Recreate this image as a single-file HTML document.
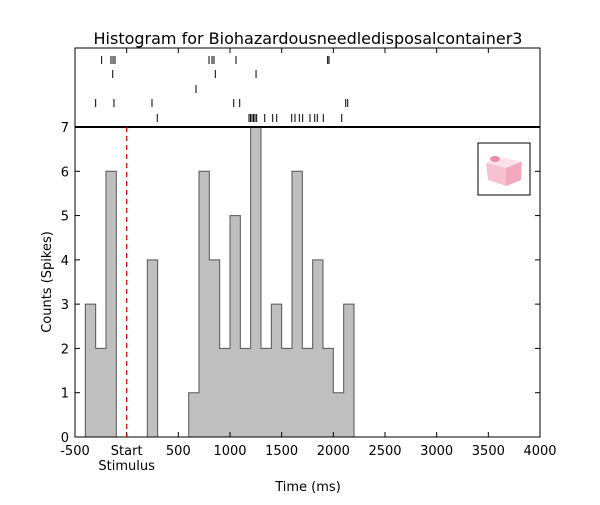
<!DOCTYPE html>
<html><head><meta charset="utf-8"><style>
body{margin:0;background:#fff;}
svg text{font-family:"DejaVu Sans","Liberation Sans",sans-serif;}
</style></head><body>
<svg id="c" width="600" height="500" viewBox="0 0 600 500">
<rect x="0" y="0" width="600" height="500" fill="#fff"/>
<text x="308" y="44" font-size="16" text-anchor="middle">Histogram for Biohazardousneedledisposalcontainer3</text>
<g id="bars"></g>
<g id="raster"></g>
<rect x="75" y="48" width="465" height="389" fill="none" stroke="#000" stroke-width="1"/>
<line x1="75" y1="127" x2="540" y2="127" stroke="#000" stroke-width="2"/>
<g id="ticks"></g>
<line id="stim" y1="127" y2="437" stroke="#c00" stroke-width="1.2" stroke-dasharray="5,4"/>
<g>
<rect x="478" y="143" width="52" height="52" fill="#fff" stroke="#000" stroke-width="1"/>
<path d="M486 163 L504 158 L522 162 L521 180 L506 186 L488 180 Z" fill="#f7c2d0"/>
<path d="M486 163 L504 158 L522 162 L506 168 Z" fill="#fbe0e8"/>
<ellipse cx="495" cy="159" rx="5" ry="3" fill="#ee8aa5"/>
<path d="M506 168 L506 186 L521 180 L521 162 Z" fill="#f3a9bd"/>
</g>
<text x="308" y="491" font-size="13" text-anchor="middle">Time (ms)</text>
<text transform="translate(51,282) rotate(-90)" font-size="13" text-anchor="middle">Counts (Spikes)</text>
</svg>
<script>
const binStarts=[-400,-300,-200,-100,0,100,200,300,400,500,600,700,800,900,1000,1100,1200,1300,1400,1500,1600,1700,1800,1900,2000,2100];
const counts=[3,2,6,0,0,0,4,0,0,0,1,6,4,2,5,2,7,2,3,2,6,2,4,2,1,3];
const binWidth=100;
const xTicks=[-500,0,500,1000,1500,2000,2500,3000,3500,4000];
const xTickLabels=["-500","Start","500","1000","1500","2000","2500","3000","3500","4000"];
const yTicks=[0,1,2,3,4,5,6,7];
const trial1=[-242,-152,-132,-113,797,826,845,1058,1945,1958];
const trial2=[-135,858,1252];
const trial3=[671];
const trial4=[-300,-123,245,1036,1094,2120,2139];
const trial5=[296,1184,1198,1213,1228,1242,1258,1336,1413,1452,1597,1629,1671,1703,1774,1820,1845,1903,2081];
const trials=[trial1,trial2,trial3,trial4,trial5];

const NS="http://www.w3.org/2000/svg";
const X=v=>75+(v+500)*465/4500;
const Y=v=>437-v*310/7;
function mk(tag,attrs,parent){const e=document.createElementNS(NS,tag);for(const k in attrs)e.setAttribute(k,attrs[k]);parent.appendChild(e);return e;}
const bars=document.getElementById('bars');
let d="M"+X(binStarts[0])+" "+Y(0);
binStarts.forEach((s,i)=>{d+=" L"+X(s)+" "+Y(counts[i])+" L"+X(s+binWidth)+" "+Y(counts[i]);});
d+=" L"+X(binStarts[binStarts.length-1]+binWidth)+" "+Y(0)+" Z";
const p=mk('path',{d:d,fill:'#bfbfbf',stroke:'#555','stroke-width':1},bars);


binStarts.forEach((s,i)=>{if(counts[i]>0){const r=mk('rect',{x:X(s),y:Y(counts[i]),width:X(s+binWidth)-X(s),height:Y(0)-Y(counts[i]),fill:'none'},bars);

}});
const raster=document.getElementById('raster');
const rowY=[60,74,89,103,118];
trials.forEach((t,ri)=>{t.forEach(v=>{const l=mk('line',{x1:X(v),x2:X(v),y1:rowY[ri]-4,y2:rowY[ri]+4,stroke:'#000','stroke-width':1},raster);

});});
const tk=document.getElementById('ticks');
xTicks.forEach((v,i)=>{const x=X(v);
mk('line',{x1:x,x2:x,y1:437,y2:432,stroke:'#000'},tk);
mk('line',{x1:x,x2:x,y1:48,y2:53,stroke:'#000'},tk);
const t=mk('text',{x:x,y:455,'font-size':13,'text-anchor':'middle'},tk);t.textContent=xTickLabels[i];

});
const st=mk('text',{x:X(0),y:470,'font-size':13,'text-anchor':'middle'},tk);st.textContent="Stimulus";


yTicks.forEach(v=>{const y=Y(v);
mk('line',{x1:75,x2:80,y1:y,y2:y,stroke:'#000'},tk);
mk('line',{x1:540,x2:535,y1:y,y2:y,stroke:'#000'},tk);
const t=mk('text',{x:69,y:y+5,'font-size':13,'text-anchor':'end'},tk);t.textContent=v;

});
const s=document.getElementById('stim');s.setAttribute('x1',X(0));s.setAttribute('x2',X(0));
</script>
</body></html>
